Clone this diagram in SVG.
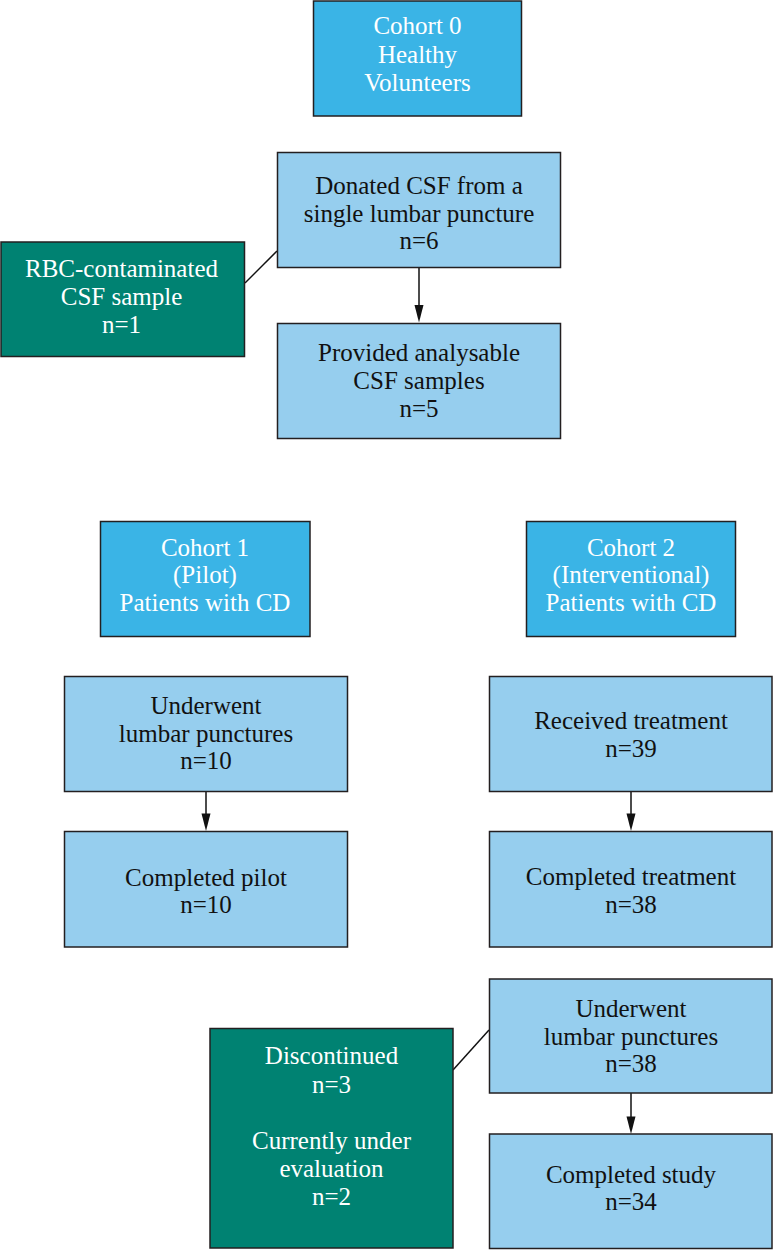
<svg xmlns="http://www.w3.org/2000/svg" width="773" height="1251" viewBox="0 0 773 1251">
<style>
  .c, .l, .g { stroke: #231F20; stroke-width: 1.5; }
  .c { fill: #3AB4E6; }
  .l { fill: #96CEEE; }
  .g { fill: #008272; }
  text { font-family: "Liberation Serif", "Times New Roman", serif; font-size: 25px; text-anchor: middle; }
  .w { fill: #FFFFFF; }
  .k { fill: #111111; }
  .conn line { stroke: #111111; stroke-width: 1.5; fill: none; }
  .conn path { fill: #111111; stroke: none; }
</style>
<rect width="773" height="1251" fill="#FFFFFF"/>

<g class="conn">
  <line x1="245" y1="283" x2="277" y2="251"/>
  <line x1="419" y1="268" x2="419" y2="306"/>
  <path d="M414.5,305 L423.5,305 L419,322.5 Z"/>
  <line x1="206" y1="792" x2="206" y2="814"/>
  <path d="M201.5,813.5 L210.5,813.5 L206,831 Z"/>
  <line x1="631" y1="792" x2="631" y2="814"/>
  <path d="M626.5,813.5 L635.5,813.5 L631,831 Z"/>
  <line x1="631" y1="1093" x2="631" y2="1117"/>
  <path d="M626.5,1116.5 L635.5,1116.5 L631,1134 Z"/>
  <line x1="453" y1="1070" x2="489" y2="1030"/>
</g>

<g id="cohort0">
  <rect class="c" x="313.5" y="1" width="208" height="115"/>
  <text class="w" x="417.5" y="34">Cohort 0</text>
  <text class="w" x="417.5" y="62.5">Healthy</text>
  <text class="w" x="417.5" y="91">Volunteers</text>
</g>

<g id="donated">
  <rect class="l" x="277.5" y="152.5" width="283" height="115"/>
  <text class="k" x="419" y="194">Donated CSF from a</text>
  <text class="k" x="419" y="221.5">single lumbar puncture</text>
  <text class="k" x="419" y="249">n=6</text>
</g>

<g id="rbc">
  <rect class="g" x="1" y="242" width="243.5" height="114.5"/>
  <text class="w" x="121.5" y="276.5">RBC-contaminated</text>
  <text class="w" x="121.5" y="305">CSF sample</text>
  <text class="w" x="121.5" y="332.5">n=1</text>
</g>

<g id="provided">
  <rect class="l" x="277.5" y="323.5" width="283" height="115"/>
  <text class="k" x="419" y="360.5">Provided analysable</text>
  <text class="k" x="419" y="389">CSF samples</text>
  <text class="k" x="419" y="416.5">n=5</text>
</g>

<g id="cohort1">
  <rect class="c" x="100.5" y="521.5" width="209.5" height="115"/>
  <text class="w" x="205" y="555.5">Cohort 1</text>
  <text class="w" x="205" y="583">(Pilot)</text>
  <text class="w" x="205" y="610.5">Patients with CD</text>
</g>

<g id="cohort2">
  <rect class="c" x="526.5" y="521.5" width="209" height="115"/>
  <text class="w" x="631" y="555.5">Cohort 2</text>
  <text class="w" x="631" y="583">(Interventional)</text>
  <text class="w" x="631" y="610.5">Patients with CD</text>
</g>

<g id="underwent1">
  <rect class="l" x="64.5" y="676.5" width="283" height="115"/>
  <text class="k" x="206" y="714">Underwent</text>
  <text class="k" x="206" y="741.5">lumbar punctures</text>
  <text class="k" x="206" y="769">n=10</text>
</g>

<g id="pilot">
  <rect class="l" x="64.5" y="831.5" width="283" height="115.5"/>
  <text class="k" x="206" y="885.5">Completed pilot</text>
  <text class="k" x="206" y="912.5">n=10</text>
</g>

<g id="received">
  <rect class="l" x="489.5" y="676.5" width="282.5" height="115"/>
  <text class="k" x="631" y="728.5">Received treatment</text>
  <text class="k" x="631" y="756.5">n=39</text>
</g>

<g id="completedtreat">
  <rect class="l" x="489.5" y="831.5" width="282.5" height="115.5"/>
  <text class="k" x="631" y="885">Completed treatment</text>
  <text class="k" x="631" y="912.5">n=38</text>
</g>

<g id="underwent2">
  <rect class="l" x="489.5" y="979" width="282.5" height="114"/>
  <text class="k" x="631" y="1016.5">Underwent</text>
  <text class="k" x="631" y="1045">lumbar punctures</text>
  <text class="k" x="631" y="1072">n=38</text>
</g>

<g id="discontinued">
  <rect class="g" x="210" y="1028.5" width="243" height="219.5"/>
  <text class="w" x="331.5" y="1064">Discontinued</text>
  <text class="w" x="331.5" y="1092.5">n=3</text>
  <text class="w" x="331.5" y="1149">Currently under</text>
  <text class="w" x="331.5" y="1176.5">evaluation</text>
  <text class="w" x="331.5" y="1205">n=2</text>
</g>

<g id="study">
  <rect class="l" x="489.5" y="1134" width="282.5" height="114.5"/>
  <text class="k" x="631" y="1182.5">Completed study</text>
  <text class="k" x="631" y="1210">n=34</text>
</g>
</svg>
